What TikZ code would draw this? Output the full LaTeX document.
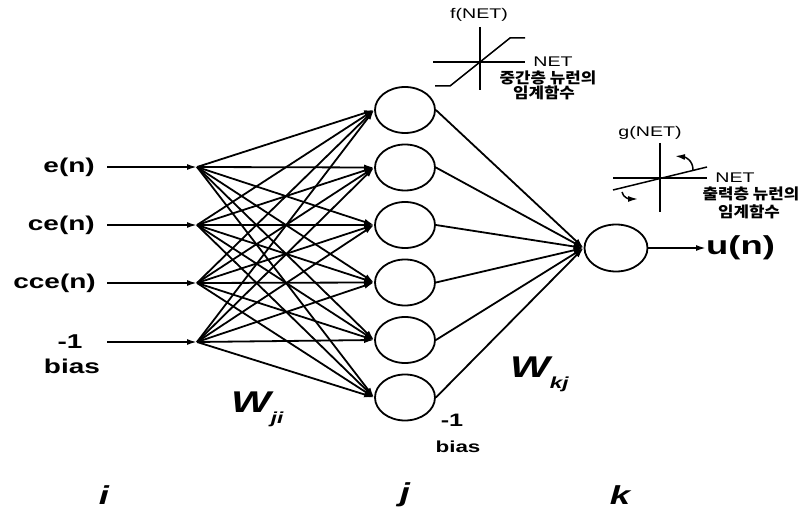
\documentclass[tikz,border=0pt]{standalone}
\usepackage{fontspec}
\setmainfont{Liberation Sans}[FakeStretch=1.4]
\newfontfamily\krfont{Noto Sans CJK KR}[FakeStretch=1.12]
\usetikzlibrary{arrows.meta,shapes.geometric}
\tikzset{
  every picture/.style={>={Latex[length=10pt,width=6pt]}, x=1pt, y=-1pt},
  conn/.style={->, line width=1.8pt},
  axis/.style={line width=1.5pt},
  neuron/.style={ellipse, draw, line width=1.8pt, minimum width=60pt,
    minimum height=46pt, inner sep=0pt},
  lbl/.style={inner sep=0pt, font=\bfseries\fontsize{20}{22}\selectfont},
  small/.style={inner sep=0pt, font=\fontsize{14}{16}\selectfont},
  kr/.style={inner sep=0pt, font=\krfont\bfseries\fontsize{15}{17}\selectfont},
  wgt/.style={inner sep=0pt, anchor=base west,
    font=\bfseries\itshape\fontsize{30}{32}\selectfont},
  layer/.style={inner sep=0pt, font=\bfseries\itshape\fontsize{26}{28}\selectfont},
}
\newcommand{\subidx}[1]{\raisebox{-11pt}{\fontsize{16}{16}\selectfont #1}}

\begin{document}
\begin{tikzpicture}
  \useasboundingbox (0,0) rectangle (809,510);
  % input layer
  \foreach \n/\y in {1/167,2/225,3/283,4/342}{
    \coordinate (in\n) at (197,\y);
    \coordinate (s\n) at (107,\y);
    \draw[conn] (s\n) -- (in\n);
  }
  \node[lbl, anchor=east] (le) at (95,167) {e(n)};
  \node[lbl, anchor=east] (lce) at (95,225) {ce(n)};
  \node[lbl, anchor=east] (lcce) at (96,283) {cce(n)};
  \node[lbl] (lm1) at (70,342) {-1};
  \node[lbl] (lb1) at (72,366) {bias};
  % hidden layer
  \foreach \j in {1,...,6}
    \node[neuron] (h\j) at (405,{52.5+57.5*\j}) {};
  \foreach \i in {1,...,4}
    \foreach \j in {1,...,6}
      \draw[conn] (in\i) -- (h\j.west);
  % output layer
  \node[neuron, minimum width=63pt, minimum height=47pt] (out) at (616,248) {};
  \foreach \j in {1,...,6}
    \draw[conn] (h\j.east) -- (out.west);
  \node[lbl, font=\bfseries\fontsize{26}{28}\selectfont, anchor=west] (un) at (706,248) {u(n)};
  \draw[conn] (out) -- (un);
  % weights, bias, layer names
  \node[wgt] (wji) at (231,413) {W\subidx{ji}};
  \node[wgt] (wkj) at (510,378) {W\subidx{kj}};
  \node[lbl, font=\bfseries\fontsize{18}{20}\selectfont] (lm2) at (452,420) {-1};
  \node[lbl, font=\bfseries\fontsize{16}{18}\selectfont] (lb2) at (458,447) {bias};
  \node[layer] (li) at (104,495) {i};
  \node[layer] (lj) at (405,495) {j};
  \node[layer] (lk) at (620,495) {k};
  % threshold function, hidden layer
  \draw[axis] (480,27) -- (480,90);
  \draw[axis] (433,62) -- (525,62);
  \draw[axis] (435,86) -- (450,86) -- (510,38) -- (525,38);
  \node[small] (fnet) at (479,15) {f(NET)};
  \node[small] (net1) at (553,62) {NET};
  \node[kr] (kr1) at (548,78) {중간층 뉴런의};
  \node[kr] (kr2) at (544,93) {임계함수};
  % threshold function, output layer
  \draw[axis] (660,143) -- (660,212);
  \draw[axis] (613,178) -- (707,178);
  \draw[axis] (613,190) -- (707,167);
  \draw[axis,->] (693,170) .. controls (693,160) and (685,157) .. (675,156);
  \draw[axis,->] (622,192) .. controls (623,198) and (630,199) .. (638,199);
  \node[small] (gnet) at (650,133) {g(NET)};
  \node[small] (net2) at (735,178) {NET};
  \node[kr] (kr3) at (751,194) {출력층 뉴런의};
  \node[kr] (kr4) at (749,212) {임계함수};
\end{tikzpicture}
\end{document}
